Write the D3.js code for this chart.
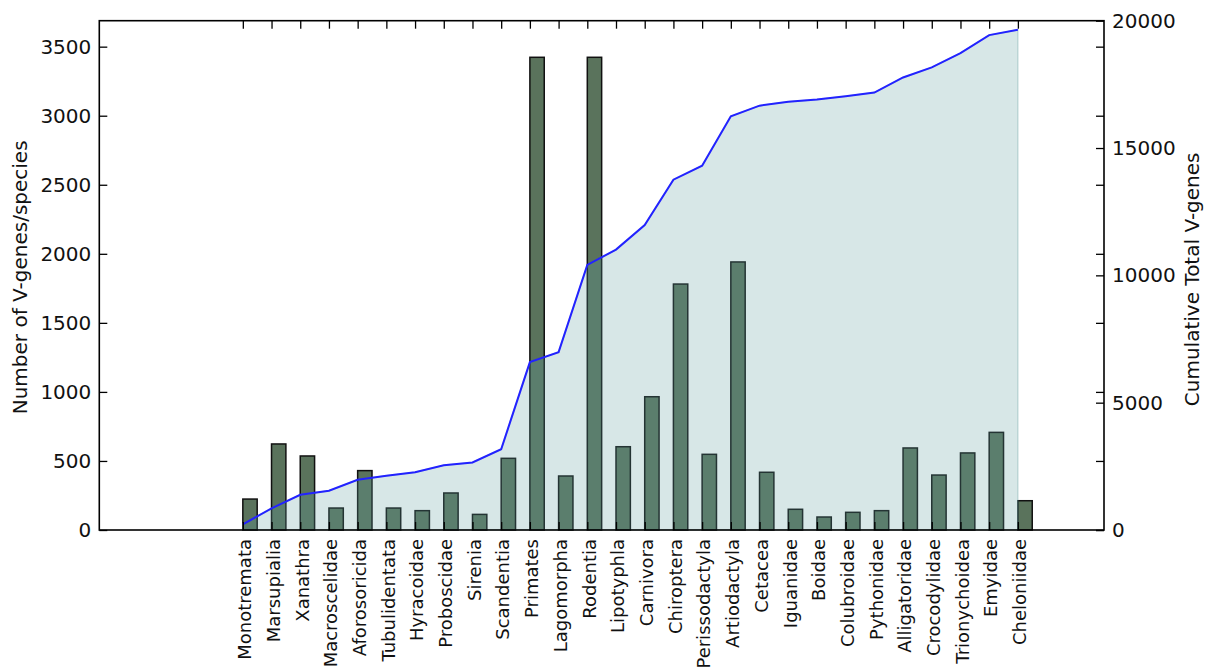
<!DOCTYPE html>
<html>
<head>
<meta charset="utf-8">
<script src="https://cdn.jsdelivr.net/npm/d3@7"></script>
<style>
  html, body { margin: 0; padding: 0; background: #fff; }
  svg { display: block; }
  svg text { font-family: "DejaVu Sans", sans-serif; fill: #111; }
</style>
</head>
<body>
<svg id="chart" width="1208" height="668"></svg>
<script>
// Taxonomic groups, in plotting order
const categories = [
  "Monotremata", "Marsupialia", "Xanathra", "Macroscelidae", "Aforosoricida",
  "Tubulidentata", "Hyracoidae", "Proboscidae", "Sirenia", "Scandentia",
  "Primates", "Lagomorpha", "Rodentia", "Lipotyphla", "Carnivora",
  "Chiroptera", "Perissodactyla", "Artiodactyla", "Cetacea", "Iguanidae",
  "Boidae", "Colubroidae", "Pythonidae", "Alligatoridae", "Crocodylidae",
  "Trionychoidea", "Emyidae", "Cheloniidae"
];

// Number of V-genes per species (left axis)
const vgenesPerSpecies = [
  224, 623, 536, 159, 430, 159, 140, 268, 113, 519,
  3423, 391, 3423, 603, 965, 1781, 548, 1941, 418, 150,
  94, 128, 140, 594, 398, 558, 707, 212
];

// Cumulative total V-genes (right axis)
const cumulativeTotal = [
  224, 847, 1383, 1542, 1972, 2131, 2271, 2539, 2652, 3171,
  6594, 6985, 10408, 11011, 11976, 13757, 14305, 16246, 16664, 16814,
  16908, 17036, 17176, 17770, 18168, 18726, 19433, 19645
];

const leftTicks = [0, 500, 1000, 1500, 2000, 2500, 3000, 3500];
const rightTicks = [0, 5000, 10000, 15000, 20000];

const FONT = "DejaVu Sans";
const svg = d3.select("#chart");
const plot = { left: 99.3, right: 1104, top: 20.7, bottom: 530 };
const tickLen = 8;
const barWidth = 0.5;

const x = d3.scaleLinear().domain([-5, 30]).range([plot.left, plot.right]);
const yLeft = d3.scaleLinear().domain([0, 3688]).range([plot.bottom, plot.top]);
const yRight = d3.scaleLinear().domain([0, 20000]).range([plot.bottom, plot.top]);

const idx = categories.map((d, i) => i);

// Bars, left edge at each category position
svg.append("g")
  .selectAll("rect")
  .data(vgenesPerSpecies)
  .join("rect")
  .attr("x", (d, i) => x(i))
  .attr("y", d => yLeft(d))
  .attr("width", x(barWidth) - x(0))
  .attr("height", d => yLeft(0) - yLeft(d))
  .attr("fill", "#5a735c")
  .attr("stroke", "#111")
  .attr("stroke-width", 1.5);

// Shaded area under the cumulative curve
const area = d3.area()
  .x((d, i) => x(i))
  .y0(yRight(0))
  .y1(d => yRight(d));

svg.append("path")
  .datum(cumulativeTotal)
  .attr("d", area)
  .attr("fill", "rgb(95,158,160)")
  .attr("fill-opacity", 0.25)
  .attr("stroke", "rgb(95,158,160)")
  .attr("stroke-opacity", 0.3)
  .attr("stroke-width", 1.5);

// Cumulative curve
const line = d3.line()
  .x((d, i) => x(i))
  .y(d => yRight(d));

svg.append("path")
  .datum(cumulativeTotal)
  .attr("d", line)
  .attr("fill", "none")
  .attr("stroke", "#2222ff")
  .attr("stroke-width", 2);

// Axes (ticks point inward)
function styleAxis(g, fontSize) {
  g.attr("font-family", FONT).attr("font-size", fontSize);
  g.select(".domain").remove();
  g.selectAll(".tick line").attr("stroke", "#000").attr("stroke-width", 1.3);
  g.selectAll(".tick text")
    .attr("font-family", FONT)
    .attr("font-size", fontSize)
    .attr("fill", "#111");
}

const intFmt = d3.format("d");

svg.append("g")
  .attr("transform", `translate(${plot.left},0)`)
  .call(d3.axisLeft(yLeft).tickValues(leftTicks).tickSizeInner(-tickLen).tickSizeOuter(0).tickPadding(8).tickFormat(intFmt))
  .call(g => styleAxis(g, 20));

// Left-axis ticks mirrored on the right spine
svg.append("g")
  .attr("transform", `translate(${plot.right},0)`)
  .call(d3.axisRight(yLeft).tickValues(leftTicks).tickSizeInner(-tickLen).tickSizeOuter(0).tickFormat(""))
  .call(g => styleAxis(g, 20));

svg.append("g")
  .attr("transform", `translate(${plot.right},0)`)
  .call(d3.axisRight(yRight).tickValues(rightTicks).tickSizeInner(-tickLen).tickSizeOuter(0).tickPadding(8).tickFormat(intFmt))
  .call(g => styleAxis(g, 20));

// Category ticks on top spine
svg.append("g")
  .attr("transform", `translate(0,${plot.top})`)
  .call(d3.axisTop(x).tickValues(idx).tickSizeInner(-tickLen).tickSizeOuter(0).tickFormat(""))
  .call(g => styleAxis(g, 18));

// Category ticks and rotated labels on bottom spine
const xAxis = svg.append("g")
  .attr("transform", `translate(0,${plot.bottom})`)
  .call(d3.axisBottom(x).tickValues(idx).tickSizeInner(-tickLen).tickSizeOuter(0).tickFormat(i => categories[i]))
  .call(g => styleAxis(g, 18));

xAxis.selectAll(".tick text")
  .attr("text-anchor", "end")
  .attr("transform", "translate(1.5,9) rotate(-90)")
  .attr("x", 0)
  .attr("y", 0)
  .attr("dy", "0.35em");

// Frame
svg.append("rect")
  .attr("x", plot.left)
  .attr("y", plot.top)
  .attr("width", plot.right - plot.left)
  .attr("height", plot.bottom - plot.top)
  .attr("fill", "none")
  .attr("stroke", "#000")
  .attr("stroke-width", 1.6);

// Axis titles
const midY = (plot.top + plot.bottom) / 2;
svg.append("text")
  .attr("transform", `translate(20,${midY + 2}) rotate(-90)`)
  .attr("text-anchor", "middle")
  .attr("dy", "0.35em")
  .attr("font-family", FONT)
  .attr("font-size", 20)
  .text("Number of V-genes/species");

svg.append("text")
  .attr("transform", `translate(1192,${midY + 4}) rotate(-90)`)
  .attr("text-anchor", "middle")
  .attr("dy", "0.35em")
  .attr("font-family", FONT)
  .attr("font-size", 20)
  .text("Cumulative Total V-genes");
</script>
</body>
</html>
